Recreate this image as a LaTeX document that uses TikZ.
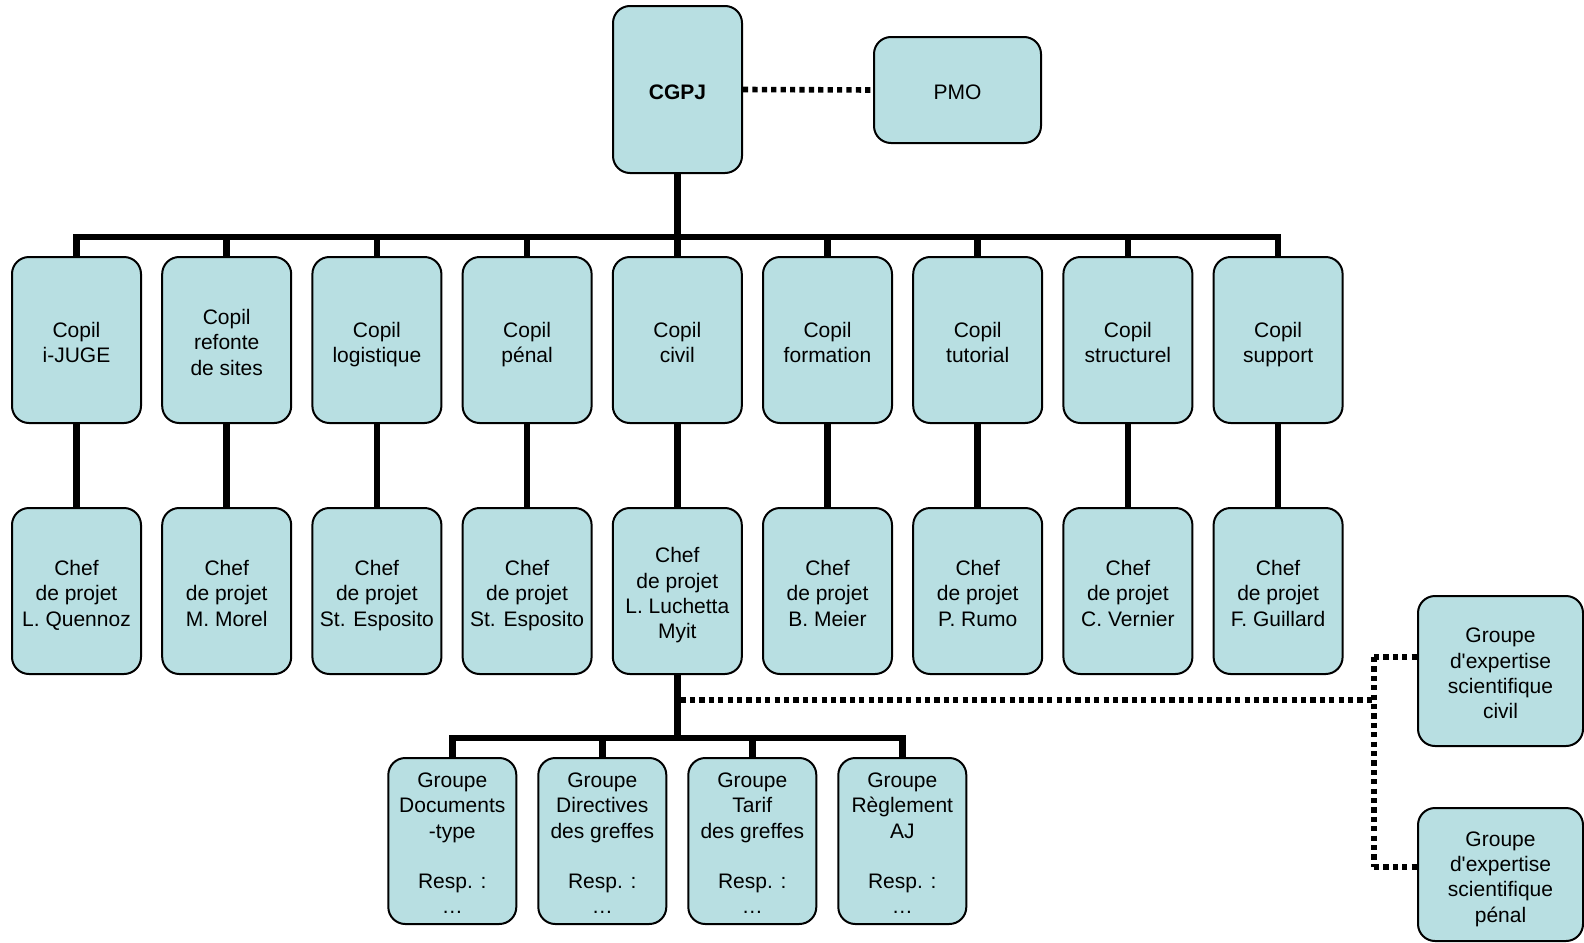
\documentclass[tikz,border=0pt]{standalone}
\usepackage{fontspec}
\setmainfont{Liberation Sans}
\usepackage{tikz}
\usepackage{xcolor}
\definecolor{box_blue}{HTML}{B8DFE2}
\newcommand{\tstrut}{\rule{0pt}{13.5pt}}

\begin{document}
\begin{tikzpicture}[x=0.5pt,y=-0.5pt,
              box/.style={draw,line width=1pt,fill=box_blue,rounded corners=8.5pt,minimum width=64.5pt,minimum height=83pt,inner sep=0pt,align=center,font=\fontsize{10.5}{12.65}\selectfont,execute at end node=\strut},
              tree/.style={line width=3.3pt},
              dots/.style={line width=2.8pt,dash pattern=on 2.6pt off 2.1pt}]
              \useasboundingbox (0,0) rectangle (1584,942);
              % top level
              \node[box,minimum height=83.5pt] (CGPJ) at (677.5,89.5) {\tstrut\textbf{CGPJ}};
              \node[box,minimum width=83.5pt,minimum height=53pt] (PMO) at (957.5,90) {\tstrut PMO};
              % copils
              \node[box] (C1) at (76.5,340) {\tstrut Copil\\i-JUGE};
              \node[box] (C2) at (226.7,340) {\tstrut Copil\\refonte\\de sites};
              \node[box] (C3) at (376.9,340) {\tstrut Copil\\logistique};
              \node[box] (C4) at (527.1,340) {\tstrut Copil\\pénal};
              \node[box] (C5) at (677.3,340) {\tstrut Copil\\civil};
              \node[box] (C6) at (827.5,340) {\tstrut Copil\\formation};
              \node[box] (C7) at (977.7,340) {\tstrut Copil\\tutorial};
              \node[box] (C8) at (1127.9,340) {\tstrut Copil\\structurel};
              \node[box] (C9) at (1278.1,340) {\tstrut Copil\\support};
              % chefs de projet
              \node[box] (P1) at (76.5,591) {\tstrut Chef\\de projet\\L. Quennoz};
              \node[box] (P2) at (226.7,591) {\tstrut Chef\\de projet\\M. Morel};
              \node[box] (P3) at (376.9,591) {\tstrut Chef\\de projet\\St. Esposito};
              \node[box] (P4) at (527.1,591) {\tstrut Chef\\de projet\\St. Esposito};
              \node[box] (P5) at (677.3,591) {\tstrut Chef\\de projet\\L. Luchetta\\Myit};
              \node[box] (P6) at (827.5,591) {\tstrut Chef\\de projet\\B. Meier};
              \node[box] (P7) at (977.7,591) {\tstrut Chef\\de projet\\P. Rumo};
              \node[box] (P8) at (1127.9,591) {\tstrut Chef\\de projet\\C. Vernier};
              \node[box] (P9) at (1278.1,591) {\tstrut Chef\\de projet\\F. Guillard};
              % groupes
              \node[box,minimum width=64pt] (G1) at (452.3,841) {\tstrut Groupe\\Documents\\-type\\[12.65pt]Resp. :\\…};
              \node[box,minimum width=64pt] (G2) at (602.3,841) {\tstrut Groupe\\Directives\\des greffes\\[12.65pt]Resp. :\\…};
              \node[box,minimum width=64pt] (G3) at (752.3,841) {\tstrut Groupe\\Tarif\\des greffes\\[12.65pt]Resp. :\\…};
              \node[box,minimum width=64pt] (G4) at (902.3,841) {\tstrut Groupe\\Règlement\\AJ\\[12.65pt]Resp. :\\…};
              \node[box,minimum width=82.5pt,minimum height=75pt] (S1) at (1500.5,671) {\tstrut Groupe\\d\textquotesingle expertise\\scientifique\\civil};
              \node[box,minimum width=82.5pt,minimum height=66.5pt] (S2) at (1500.5,874.5) {\tstrut Groupe\\d\textquotesingle expertise\\scientifique\\pénal};
              % solid links
              \coordinate (bus) at (677.5,237);
              \draw[tree] (CGPJ.south) -- (bus);
              \draw[tree] (bus) -| (C1.north);
              \draw[tree] (bus) -| (C2.north);
              \draw[tree] (bus) -| (C3.north);
              \draw[tree] (bus) -| (C4.north);
              \draw[tree] (bus) -| (C5.north);
              \draw[tree] (bus) -| (C6.north);
              \draw[tree] (bus) -| (C7.north);
              \draw[tree] (bus) -| (C8.north);
              \draw[tree] (bus) -| (C9.north);
              \draw[tree] (C1.south) -- (P1.north);
              \draw[tree] (C2.south) -- (P2.north);
              \draw[tree] (C3.south) -- (P3.north);
              \draw[tree] (C4.south) -- (P4.north);
              \draw[tree] (C5.south) -- (P5.north);
              \draw[tree] (C6.south) -- (P6.north);
              \draw[tree] (C7.south) -- (P7.north);
              \draw[tree] (C8.south) -- (P8.north);
              \draw[tree] (C9.south) -- (P9.north);
              \coordinate (gbus) at (677.3,738);
              \draw[tree] (P5.south) -- (gbus);
              \draw[tree] (gbus) -| (G1.north);
              \draw[tree] (gbus) -| (G2.north);
              \draw[tree] (gbus) -| (G3.north);
              \draw[tree] (gbus) -| (G4.north);
              % dotted links
              \draw[dots] (CGPJ.east) -- (PMO.west);
              \coordinate (D1) at (680.6,700);
              \coordinate (D2) at (1374,700);
              \coordinate (E1) at (1374,657);
              \coordinate (E2) at (1374,867);
              \draw[dots] (D1) -- (D2);
              \draw[dots] (E1) -- (E2);
              \draw[dots] (E1) -- (E1 -| S1.west);
              \draw[dots] (E2) -- (E2 -| S2.west);
\end{tikzpicture}
\end{document}
